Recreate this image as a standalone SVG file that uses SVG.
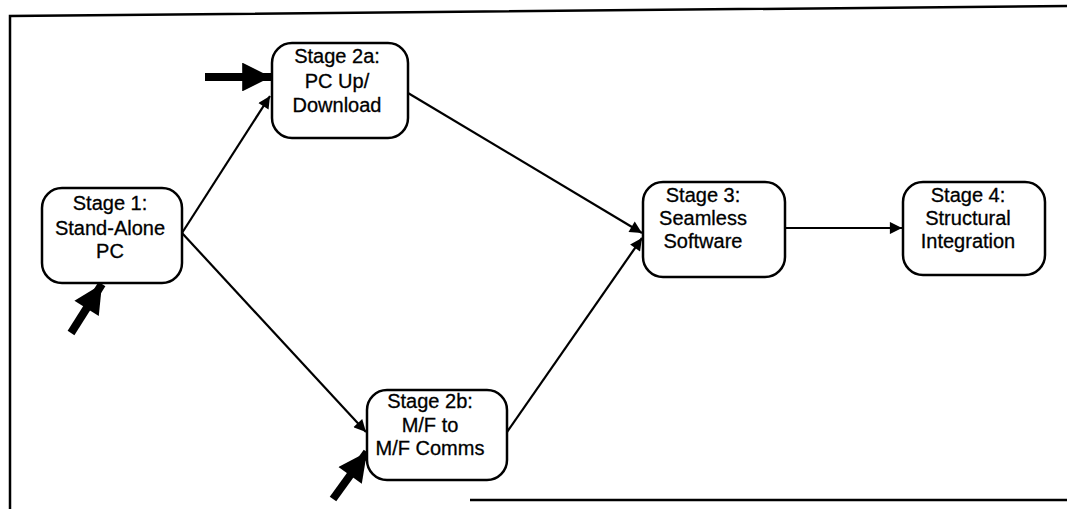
<svg xmlns="http://www.w3.org/2000/svg" width="1067" height="509" viewBox="0 0 1067 509">
<style>
.box{fill:#fff;stroke:#000;stroke-width:2.5}
.t{font-family:"Liberation Sans",Arial,sans-serif;font-size:20px;fill:#000;stroke:#000;stroke-width:0.3;text-anchor:middle}
.c{stroke:#000;stroke-width:2.2;fill:none}
.fat{stroke:#000;stroke-width:8;fill:none}
.frame{stroke:#000;stroke-width:2.5;fill:none}
</style>
<defs>
<marker id="ah" viewBox="0 0 10 10" refX="10" refY="5" markerWidth="7" markerHeight="5.5" markerUnits="strokeWidth" orient="auto">
<path d="M0,0 L10,5 L0,10 z" fill="#000"/>
</marker>
<marker id="fh" viewBox="0 0 10 10" refX="10" refY="5" markerWidth="4" markerHeight="3.6" markerUnits="strokeWidth" orient="auto">
<path d="M0,0 L10,5 L0,10 z" fill="#000"/>
</marker>
</defs>
<g id="frame">
<path class="frame" d="M10,509 L10,16 L1067,6"/>
<path class="frame" d="M470,500 L1067,500"/>
</g>
<g id="connectors">
<path class="c" d="M182,233 L270,96" marker-end="url(#ah)"/>
<path class="c" d="M182,233 L366,432" marker-end="url(#ah)"/>
<path class="c" d="M408,93 L642,233" marker-end="url(#ah)"/>
<path class="c" d="M507,432 L642,238" marker-end="url(#ah)"/>
<path class="c" d="M785,228 L902,228" marker-end="url(#ah)"/>
<path class="fat" d="M205,77 L271,77" marker-end="url(#fh)"/>
<path class="fat" d="M71,333 L102,284" marker-end="url(#fh)"/>
<path class="fat" d="M333,499 L367,452" marker-end="url(#fh)"/>
</g>
<g id="stage1">
<rect class="box" x="42" y="188" width="140" height="95" rx="20"/>
<text class="t" x="110" y="210">Stage 1:</text>
<text class="t" x="110" y="235">Stand-Alone</text>
<text class="t" x="110" y="258">PC</text>
</g>
<g id="stage2a">
<rect class="box" x="272" y="43" width="136" height="95" rx="20"/>
<text class="t" x="337" y="63">Stage 2a:</text>
<text class="t" x="337" y="88">PC Up/</text>
<text class="t" x="337" y="112">Download</text>
</g>
<g id="stage2b">
<rect class="box" x="367" y="390" width="140" height="90" rx="20"/>
<text class="t" x="430" y="408">Stage 2b:</text>
<text class="t" x="430" y="432">M/F to</text>
<text class="t" x="430" y="455">M/F Comms</text>
</g>
<g id="stage3">
<rect class="box" x="643" y="182" width="142" height="95" rx="20"/>
<text class="t" x="703" y="202">Stage 3:</text>
<text class="t" x="703" y="225">Seamless</text>
<text class="t" x="703" y="248">Software</text>
</g>
<g id="stage4">
<rect class="box" x="903" y="182" width="142" height="93" rx="20"/>
<text class="t" x="968" y="202">Stage 4:</text>
<text class="t" x="968" y="225">Structural</text>
<text class="t" x="968" y="248">Integration</text>
</g>
</svg>
